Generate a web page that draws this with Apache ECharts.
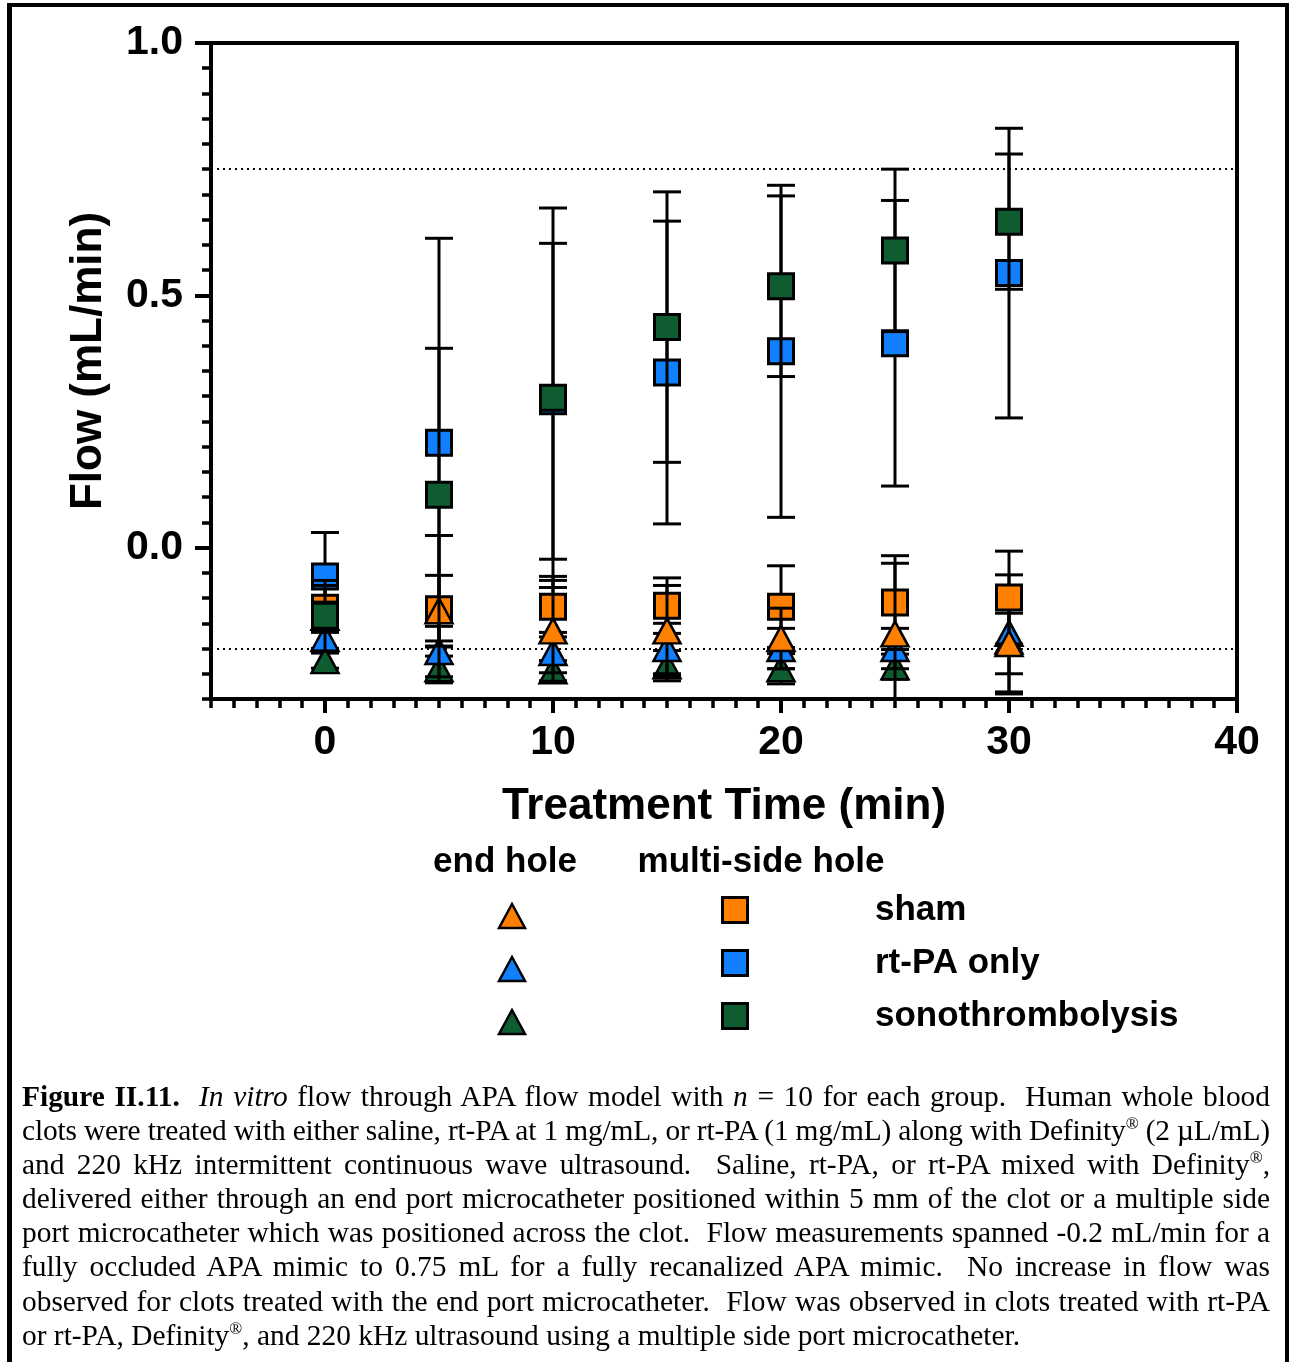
<!DOCTYPE html>
<html>
<head>
<meta charset="utf-8">
<title>In vitro flow through APA flow model</title>
<script src="https://cdn.jsdelivr.net/npm/echarts@6/dist/echarts.min.js"></script>
<style>
  html, body { margin: 0; padding: 0; background: #fff; }
  #wrap { position: relative; width: 1289px; height: 1362px; overflow: hidden; background: #fff; }
  #chart { position: absolute; left: 0; top: 0; width: 1289px; height: 1362px; }
  #frame {
    position: absolute; left: 7px; top: 3px; width: 1273px; height: 1420px;
    border-left: 5px solid #000; border-top: 4px solid #000; border-right: 4px solid #000;
    pointer-events: none;
  }
  #caption {
    position: absolute; left: 22px; top: 1079px;
    font-family: 'Liberation Serif', 'Times New Roman', serif;
    font-size: 30px; line-height: 34.1px; color: #000;
    transform-origin: 0 0;
  }
  #caption .ln { white-space: pre; }
  #caption .ln span { display: inline-block; }
  #caption sup { font-size: 0.58em; line-height: 0; vertical-align: 0.62em; }
</style>
</head>
<body>
<div id="wrap">
  <div id="chart"></div>
  <div id="frame"></div>
  <div id="caption">
    <div class="ln"><span><b>Figure II.11.</b>  <i>In vitro</i> flow through APA flow model with <i>n</i> = 10 for each group.  Human whole blood</span></div>
    <div class="ln"><span>clots were treated with either saline, rt-PA at 1 mg/mL, or rt-PA (1 mg/mL) along with Definity<sup>®</sup> (2 µL/mL)</span></div>
    <div class="ln"><span>and 220 kHz intermittent continuous wave ultrasound.  Saline, rt-PA, or rt-PA mixed with Definity<sup>®</sup>,</span></div>
    <div class="ln"><span>delivered either through an end port microcatheter positioned within 5 mm of the clot or a multiple side</span></div>
    <div class="ln"><span>port microcatheter which was positioned across the clot.  Flow measurements spanned -0.2 mL/min for a</span></div>
    <div class="ln"><span>fully occluded APA mimic to 0.75 mL for a fully recanalized APA mimic.  No increase in flow was</span></div>
    <div class="ln"><span>observed for clots treated with the end port microcatheter.  Flow was observed in clots treated with rt-PA</span></div>
    <div class="ln last"><span>or rt-PA, Definity<sup>®</sup>, and 220 kHz ultrasound using a multiple side port microcatheter.</span></div>
  </div>
</div>
<script>
// ---- data: flow (mL/min), mean and SD per treatment time ----
const times = [0, 5, 10, 15, 20, 25, 30];

const shamMultiMean = [-0.119, -0.122, -0.117, -0.115, -0.117, -0.109, -0.099];
const shamMultiSD   = [0.044, 0.146, 0.060, 0.055, 0.081, 0.093, 0.092];
const rtpaMultiMean = [-0.057, 0.208, 0.290, 0.347, 0.389, 0.405, 0.544];
const rtpaMultiSD   = [0.087, 0.405, 0.313, 0.300, 0.329, 0.283, 0.287];
const sonoMultiMean = [-0.135, 0.105, 0.297, 0.437, 0.518, 0.589, 0.646];
const sonoMultiSD   = [0.070, 0.290, 0.376, 0.268, 0.179, 0.161, 0.134];

const shamEndMean = [-0.138, -0.125, -0.165, -0.165, -0.180, -0.171, -0.190];
const shamEndSD   = [0.030, 0.070, 0.100, 0.090, 0.060, 0.140, 0.060];
const rtpaEndMean = [-0.180, -0.206, -0.208, -0.200, -0.200, -0.200, -0.170];
const rtpaEndSD   = [0.020, 0.050, 0.040, 0.050, 0.040, 0.040, 0.116];
const sonoEndMean = [-0.224, -0.240, -0.244, -0.234, -0.240, -0.236, -0.185];
const sonoEndSD   = [0.015, 0.025, 0.020, 0.030, 0.030, 0.025, 0.105];

// axis ticks / labels and reference levels (occluded / recanalized flow)
const xLabelValues = [0, 10, 20, 30, 40];
const yLabelValues = [0, 0.5, 1.0];
const refLevels = [0.75, -0.2];

const groupNames = ['sham', 'rt-PA only', 'sonothrombolysis'];
const legendHeaders = ['end hole', 'multi-side hole'];

// ---- styling ----
const ORANGE = '#FF8000', BLUE = '#1080FF', GREEN = '#0F5C30';
const SANS = "'Liberation Sans', Arial, Helvetica, sans-serif";

// draw order (later on top)
const groups = [
  { name: 'rt-PA only · multi-side hole',      mean: rtpaMultiMean, sd: rtpaMultiSD, color: BLUE,   symbol: 'rect' },
  { name: 'sonothrombolysis · end hole',       mean: sonoEndMean,   sd: sonoEndSD,   color: GREEN,  symbol: 'triangle' },
  { name: 'rt-PA only · end hole',             mean: rtpaEndMean,   sd: rtpaEndSD,   color: BLUE,   symbol: 'triangle' },
  { name: 'sham · multi-side hole',            mean: shamMultiMean, sd: shamMultiSD, color: ORANGE, symbol: 'rect' },
  { name: 'sham · end hole',                   mean: shamEndMean,   sd: shamEndSD,   color: ORANGE, symbol: 'triangle' },
  { name: 'sonothrombolysis · multi-side hole', mean: sonoMultiMean, sd: sonoMultiSD, color: GREEN,  symbol: 'rect' }
];

function renderErrorBar(params, api) {
  const x = api.value(0), lo = api.value(1), hi = api.value(2);
  const top = api.coord([x, hi]);
  const bot = api.coord([x, lo]);
  const hw = 14;
  const style = { stroke: '#000', lineWidth: 3 };
  return {
    type: 'group',
    children: [
      { type: 'line', shape: { x1: top[0], y1: top[1], x2: bot[0], y2: bot[1] }, style },
      { type: 'line', shape: { x1: top[0] - hw, y1: top[1], x2: top[0] + hw, y2: top[1] }, style },
      { type: 'line', shape: { x1: bot[0] - hw, y1: bot[1], x2: bot[0] + hw, y2: bot[1] }, style }
    ]
  };
}

const series = [];
groups.forEach((g, k) => {
  series.push({
    name: g.name,
    type: 'custom',
    coordinateSystem: 'cartesian2d',
    xAxisIndex: 0, yAxisIndex: 0,
    renderItem: renderErrorBar,
    clip: true,
    silent: true,
    z: 10 + k * 2,
    encode: { x: 0, y: [1, 2] },
    data: times.map((t, i) => [t, g.mean[i] - g.sd[i], g.mean[i] + g.sd[i]])
  });
  series.push({
    name: g.name,
    type: 'scatter',
    xAxisIndex: 0, yAxisIndex: 0,
    symbol: g.symbol,
    symbolSize: g.symbol === 'rect' ? [25, 25] : [27, 25],
    z: 11 + k * 2,
    itemStyle: { color: g.color, borderColor: '#000', borderWidth: g.symbol === 'rect' ? 3 : 2.5, opacity: 1 },
    emphasis: { disabled: true },
    data: times.map((t, i) => [t, g.mean[i]])
  });
});

// dotted reference levels
series.push({
  type: 'line',
  xAxisIndex: 0, yAxisIndex: 0,
  data: [],
  silent: true,
  z: 5,
  markLine: {
    silent: true,
    symbol: ['none', 'none'],
    label: { show: false },
    lineStyle: { color: '#000', width: 2, type: [2, 4] },
    data: refLevels.map(v => ({ yAxis: v }))
  }
});

// ---- legend drawn as graphic elements ----
const legendColors = [ORANGE, BLUE, GREEN];
const rowTop = 910, rowGap = 53;
const triX = 512, sqX = 735, labelX = 875;
const graphic = [];
legendHeaders.forEach((h, i) => {
  graphic.push({
    type: 'text', x: i === 0 ? 505 : 761, y: 862,
    style: { text: h, fill: '#000', font: "bold 35px " + SANS, align: 'center', verticalAlign: 'middle' }
  });
});
groupNames.forEach((n, i) => {
  const cy = rowTop + i * rowGap;
  const ty = cy + 6;
  graphic.push({
    type: 'polygon',
    shape: { points: [[triX, ty - 12], [triX - 13, ty + 12], [triX + 13, ty + 12]] },
    style: { fill: legendColors[i], stroke: '#000', lineWidth: 2.5, lineJoin: 'miter' }
  });
  graphic.push({
    type: 'rect',
    shape: { x: sqX - 12.5, y: cy - 12.5, width: 25, height: 25 },
    style: { fill: legendColors[i], stroke: '#000', lineWidth: 3 }
  });
  graphic.push({
    type: 'text', x: labelX, y: cy,
    style: { text: n, fill: '#000', font: "bold 35px " + SANS, align: 'left', verticalAlign: 'middle' }
  });
});

const axisText = { color: '#000', fontFamily: SANS, fontWeight: 'bold', fontSize: 41 };
const nameText = { color: '#000', fontFamily: SANS, fontWeight: 'bold', fontSize: 44 };

const option = {
  animation: false,
  backgroundColor: 'transparent',
  grid: {
    left: 211, right: 52, top: 43, bottom: 663,
    containLabel: false, outerBoundsMode: 'none',
    show: true, borderColor: '#000', borderWidth: 4, backgroundColor: 'transparent'
  },
  xAxis: [
    {
      type: 'value', min: -5, max: 40, position: 'bottom',
      axisLine: { show: true, onZero: false, lineStyle: { color: '#000', width: 4 } },
      axisTick: { show: true, customValues: xLabelValues, length: 14, lineStyle: { color: '#000', width: 4 } },
      axisLabel: Object.assign({ customValues: xLabelValues, margin: 23 }, axisText),
      splitLine: { show: false },
      name: 'Treatment Time (min)', nameLocation: 'middle', nameGap: 86, nameTextStyle: nameText
    },
    {
      type: 'value', min: -5, max: 40, interval: 1, position: 'bottom',
      axisLine: { show: false, onZero: false },
      axisTick: { show: true, length: 9, lineStyle: { color: '#000', width: 3.5 } },
      axisLabel: { show: false },
      splitLine: { show: false }
    }
  ],
  yAxis: [
    {
      type: 'value', min: -0.3, max: 1.0, position: 'left',
      axisLine: { show: true, onZero: false, lineStyle: { color: '#000', width: 4 } },
      axisTick: { show: true, customValues: yLabelValues, length: 16, lineStyle: { color: '#000', width: 4 } },
      axisLabel: Object.assign({ customValues: yLabelValues, margin: 28, formatter: v => v.toFixed(1) }, axisText),
      splitLine: { show: false },
      name: 'Flow (mL/min)', nameLocation: 'middle', nameRotate: 90, nameGap: 100,
      nameTextStyle: Object.assign({ padding: [0, 0, 0, 20] }, nameText)
    },
    {
      type: 'value', min: -0.3, max: 1.0, interval: 0.05, position: 'left',
      axisLine: { show: false, onZero: false },
      axisTick: { show: true, length: 9, lineStyle: { color: '#000', width: 3.5 } },
      axisLabel: { show: false },
      splitLine: { show: false }
    }
  ],
  series: series,
  graphic: graphic
};

const chart = echarts.init(document.getElementById('chart'), null, { renderer: 'canvas' });
chart.setOption(option);

// ---- caption: condensed serif block, lines justified to the full width ----
(function layoutCaption() {
  const cap = document.getElementById('caption');
  const FULL_W = 1248, LAST_W = 998;
  const lines = Array.from(cap.querySelectorAll('.ln'));
  const lastSpan = cap.querySelector('.ln.last span');
  const s = LAST_W / lastSpan.getBoundingClientRect().width;
  cap.style.transform = 'scaleX(' + s + ')';
  const target = FULL_W / s;
  lines.forEach(ln => {
    if (ln.classList.contains('last')) return;
    const sp = ln.querySelector('span');
    const w = sp.getBoundingClientRect().width / s;
    const txt = sp.textContent;
    const nSpaces = (txt.match(/ /g) || []).length;
    const delta = target - w;
    if (delta >= 0) {
      sp.style.wordSpacing = (delta / nSpaces) + 'px';
    } else {
      sp.style.letterSpacing = (delta / (txt.length - 1)) + 'px';
    }
  });
})();
</script>
</body>
</html>
